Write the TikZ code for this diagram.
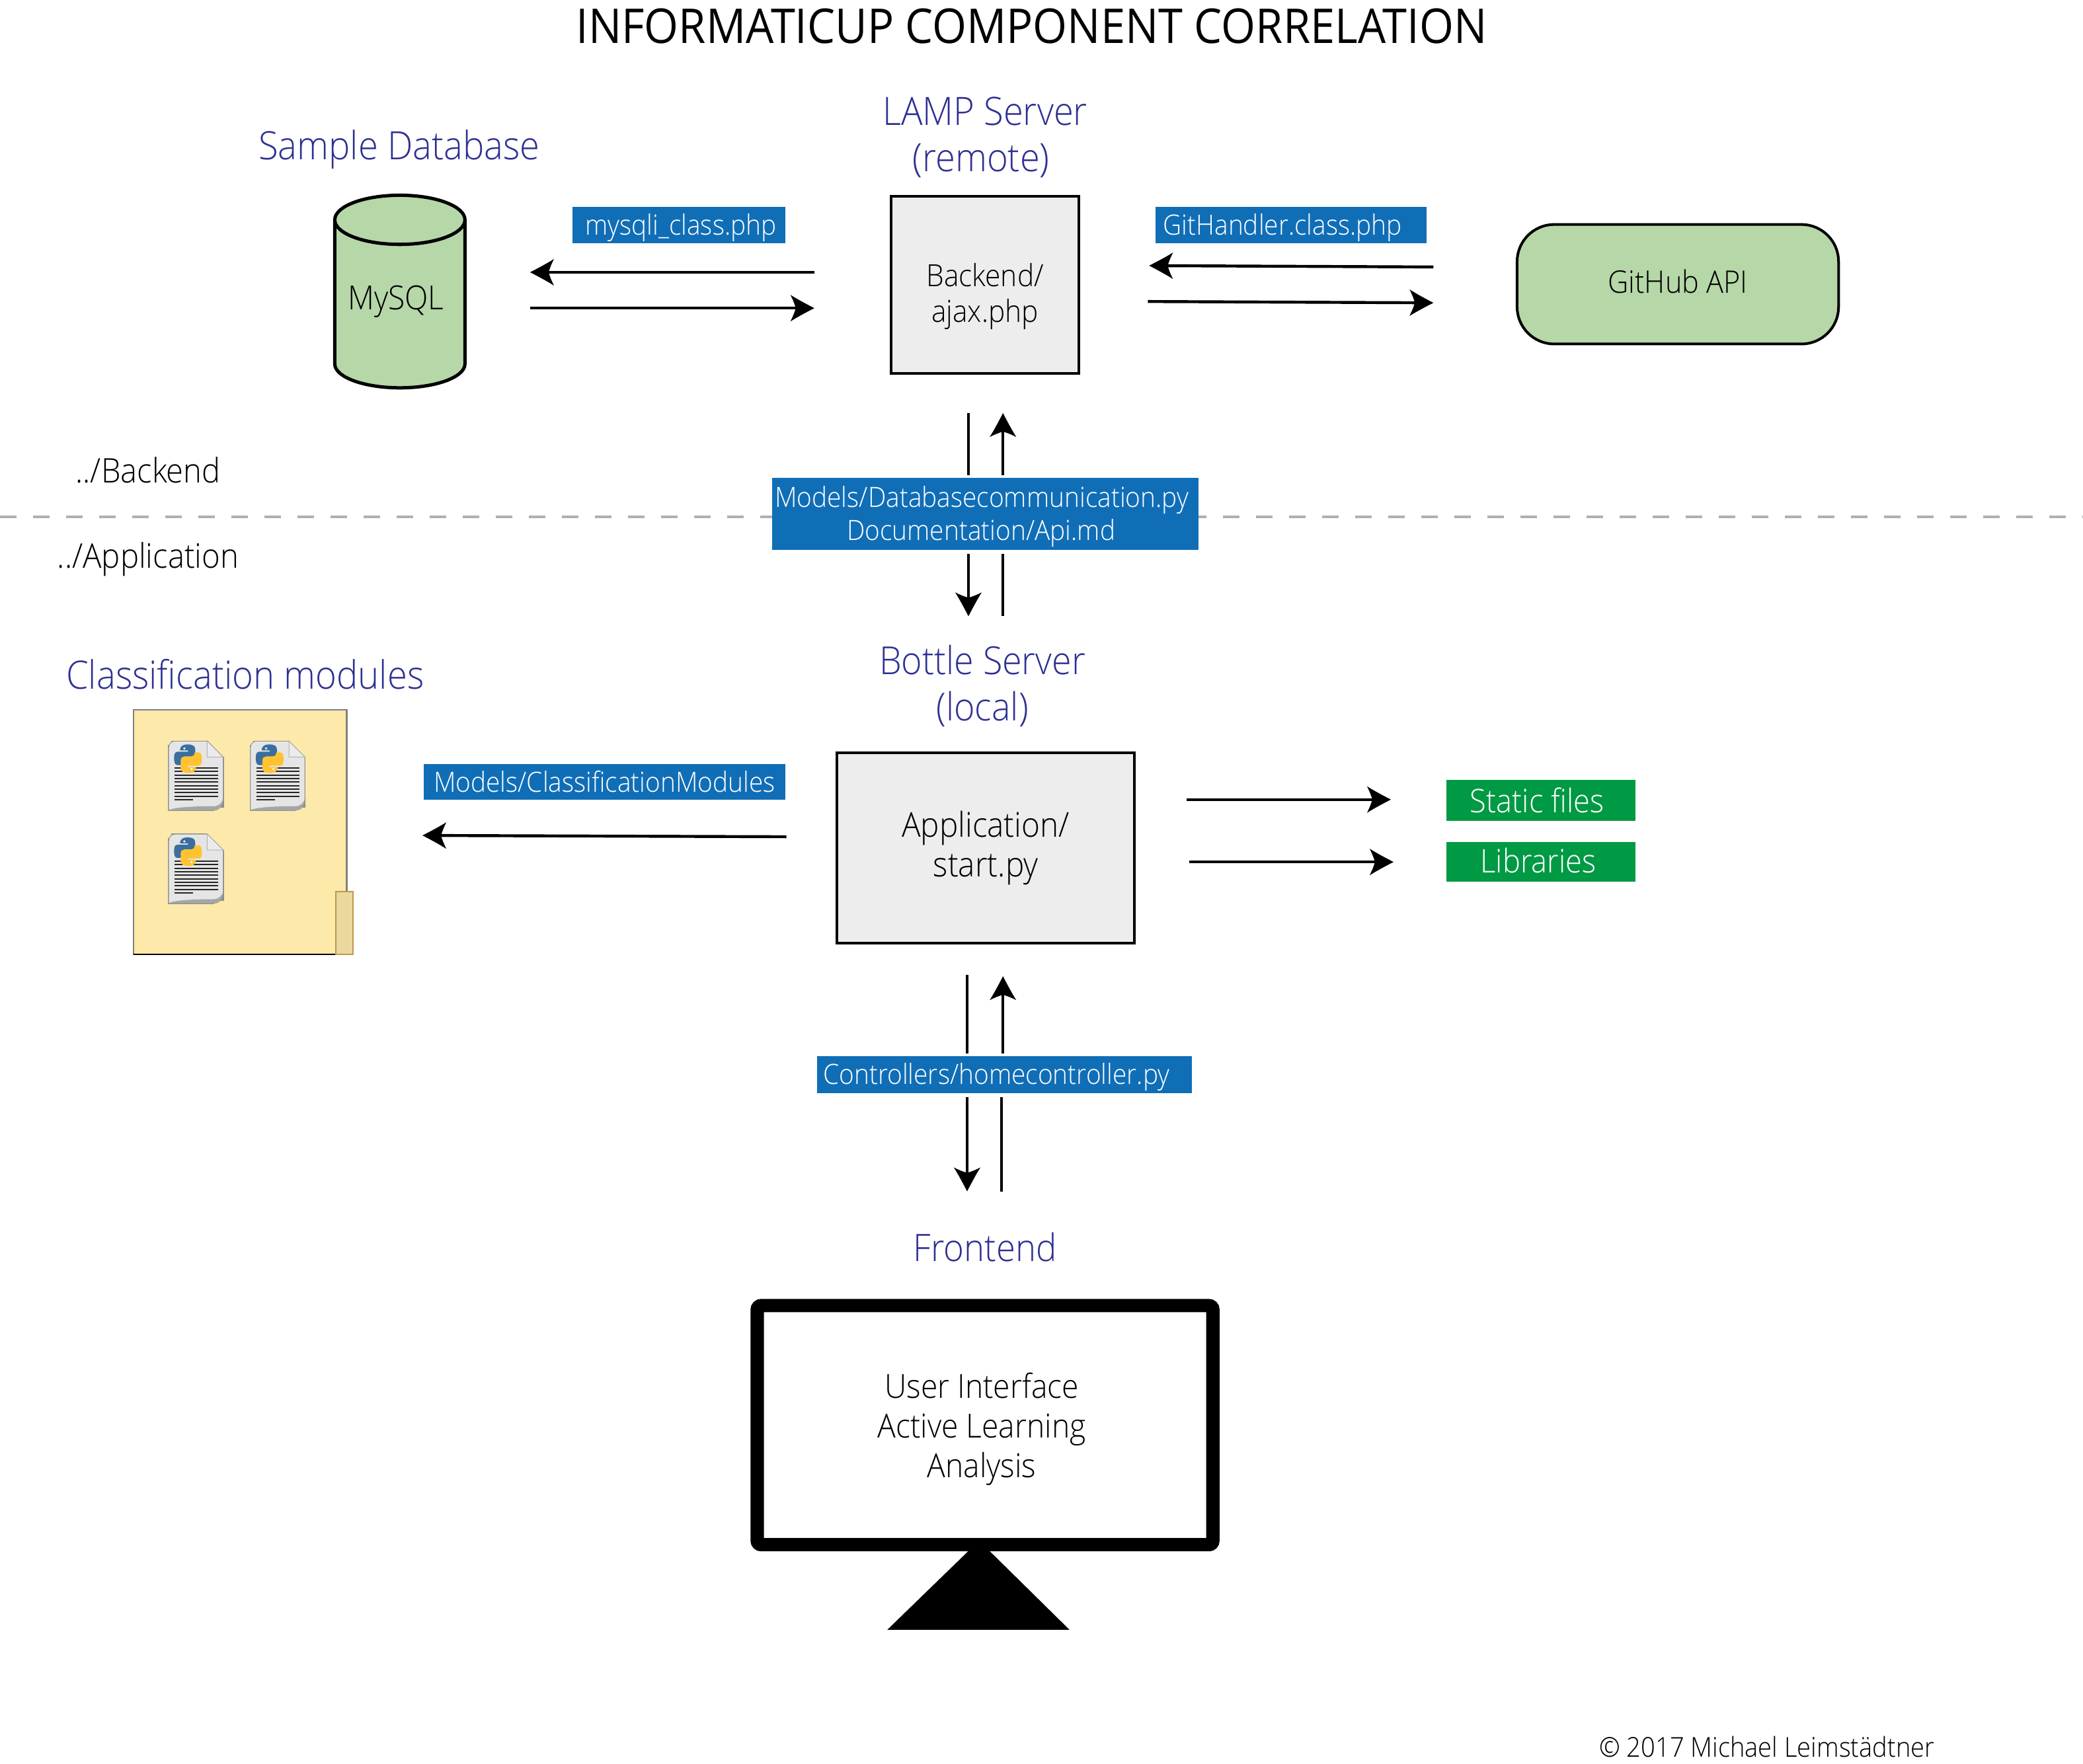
\documentclass[tikz,border=0pt]{standalone}
\usepackage{fontspec}
\setmainfont{Open Sans Light}[FakeStretch=0.92]
\newfontfamily\titlefont{Open Sans}[FakeStretch=0.92]
\usetikzlibrary{arrows.meta,shapes.geometric}
\definecolor{hd}{HTML}{2E3192}
\definecolor{bluebox}{HTML}{106EB7}
\definecolor{greenbox}{HTML}{009A44}
\definecolor{sage}{HTML}{B6D7A8}
\definecolor{panel}{HTML}{EDEDED}
\definecolor{folder}{HTML}{FDE9A9}
\definecolor{folderb}{HTML}{EBD89C}
\definecolor{folderl}{HTML}{BC9A4C}
\definecolor{pyb}{HTML}{3A6E9E}
\definecolor{pyy}{HTML}{FFC331}
\definecolor{sepgray}{HTML}{B0B0B0}
\newcommand\tagstrut{\rule{0pt}{20pt}}
\pgfarrowsdeclare{bowtip}{bowtip}
{\pgfarrowsleftextend{-8pt}\pgfarrowsrightextend{10pt}}
{
  \pgfsetlinewidth{0pt}
  \pgfpathmoveto{\pgfpoint{10pt}{0pt}}
  \pgfpathcurveto{\pgfpoint{4.5pt}{2.8pt}}{\pgfpoint{-3pt}{6.8pt}}{\pgfpoint{-8pt}{10pt}}
  \pgfpathcurveto{\pgfpoint{-6pt}{6pt}}{\pgfpoint{-4.8pt}{3pt}}{\pgfpoint{-4pt}{0pt}}
  \pgfpathcurveto{\pgfpoint{-4.8pt}{-3pt}}{\pgfpoint{-6pt}{-6pt}}{\pgfpoint{-8pt}{-10pt}}
  \pgfpathcurveto{\pgfpoint{-3pt}{-6.8pt}}{\pgfpoint{4.5pt}{-2.8pt}}{\pgfpoint{10pt}{0pt}}
  \pgfpathclose
  \pgfusepathqfill
}
\tikzset{
  x=1pt,y=-1pt,
  heading/.style={text=hd,align=center,font=\fontsize{29.4}{35}\selectfont,inner sep=0pt},
  plain/.style={text=black,align=center,inner sep=0pt},
  tagbox/.style={fill=bluebox,text=white,align=center,inner sep=0pt,font=\fontsize{21}{25}\selectfont},
  greentag/.style={fill=greenbox,text=white,align=center,inner sep=0pt,font=\fontsize{24.5}{30}\selectfont},
  flow/.style={line width=2.2pt,-bowtip},
  bare/.style={line width=2.2pt},
  pypage/.pic={
    \fill[black!45] (-0.5,-0.3) rectangle (41.5,52.6);
    \fill[folder] (-1,-1) rectangle (2,3);
    \fill[folder] (29,-1) rectangle (42,12);
    \fill[folder] (34,50) rectangle (42,53);
    \fill[black!45] (29,-.5) -- (41.5,12) -- (29,12) -- cycle;
    \path[fill=black!10,draw=black!40,line width=.5pt] (5,0) -- (29,0) -- (41,12) -- (41,42) .. controls (41,49) and (38,52) .. (34,52) -- (0,52) -- (0,5) .. controls (0,2) and (2,0) .. (5,0) -- cycle;
    \path[fill=white!92!black,draw=black!30,line width=.5pt] (29,0) -- (41,12) -- (29,12) -- cycle;
    \fill[black!35] (0,52) .. controls (5,49) and (30,49) .. (34,49) .. controls (38,49) and (41,46) .. (41,42) .. controls (41,49) and (38,52) .. (34,52) -- cycle;
    \foreach \yy in {20.3,22.8,25.8,28.3,30.8,33.6,36.1,38.8,41.7}
      \fill[black!85] (4.5,\yy-.5) rectangle (37,\yy+.5);
    \fill[black!85] (4.5,43.7) rectangle (18.3,44.7);
    \path[fill=pyb] (8.5,7) .. controls (8.5,3.5) and (11,2.5) .. (14,2.5) .. controls (18,2.5) and (20,3.5) .. (20,6.5) -- (20,12) .. controls (20,14) and (18.5,15) .. (17,15) -- (12,15) .. controls (10.5,15) and (9.5,16) .. (9.5,18) -- (6.5,18) .. controls (4.5,18) and (4,15.5) .. (4,12.5) .. controls (4,9.5) and (5,8) .. (6.5,8) -- (14.5,8) -- (14.5,7) -- cycle;
    \path[fill=pyy] (29-8.5,26.5-7) .. controls (29-8.5,26.5-3.5) and (29-11,26.5-2.5) .. (29-14,26.5-2.5) .. controls (29-18,26.5-2.5) and (29-20,26.5-3.5) .. (29-20,26.5-6.5) -- (29-20,26.5-12) .. controls (29-20,26.5-14) and (29-18.5,26.5-15) .. (29-17,26.5-15) -- (29-12,26.5-15) .. controls (29-10.5,26.5-15) and (29-9.5,26.5-16) .. (29-9.5,26.5-18) -- (29-6.5,26.5-18) .. controls (29-4.5,26.5-18) and (29-4,26.5-15.5) .. (29-4,26.5-12.5) .. controls (29-4,26.5-9.5) and (29-5,26.5-8) .. (29-6.5,26.5-8) -- (29-14.5,26.5-8) -- (29-14.5,26.5-7) -- cycle;
    \fill[white] (11.8,5.5) circle (.9);
    \fill[white] (17.2,21) circle (.9);
  }
}
\begin{document}
\begin{tikzpicture}
\useasboundingbox (0,0) rectangle (1568,1328);
\fill[white] (0,0) rectangle (1568,1328);

% separator
\coordinate (sepL) at (0,389);
\coordinate (sepR) at (1568,389);
\draw[line width=2pt,color=sepgray,dash pattern=on 12.44pt off 12.44pt] (sepL) -- (sepR);

% title
\node[inner sep=0pt,text=black] (title) at (776.5,19.5) {\titlefont\fontsize{36.1}{40}\selectfont INFORMATICUP COMPONENT CORRELATION};

% headings
\node[heading] (sampleh) at (300.5,112.5) {Sample Database};
\node[heading] (lamph) at (741.5,103.5) {LAMP Server\\(remote)\hspace*{6pt}};
\node[heading] (classh) at (184.5,507.5) {Classification modules};
\node[heading,font=\fontsize{29.1}{35}\selectfont] (bottleh) at (739.5,516.5) {Bottle Server\\(local)};
\node[heading,font=\fontsize{28.5}{35}\selectfont] (fronth) at (741.5,939) {Frontend};

% MySQL cylinder
\path[fill=sage,draw=black,line width=2.5pt] (252,165.5) -- (252,274) arc[start angle=180,end angle=360,x radius=49,y radius=-18] -- (350,165.5) arc[start angle=0,end angle=180,x radius=49,y radius=-18.5] -- cycle;
\draw[line width=2.5pt] (252,165.5) arc[start angle=180,end angle=360,x radius=49,y radius=-18.5];
\node[plain,font=\fontsize{25}{30}\selectfont] (mysql) at (298,227) {MySQL};

% server boxes
\node[draw=black,line width=2pt,fill=panel,minimum width=141pt,minimum height=133pt,plain,font=\fontsize{23}{27}\selectfont] (backend) at (741.5,214.5) {\rule{0pt}{35pt}Backend/\\ajax.php};
\node[draw=black,line width=2pt,fill=sage,rounded corners=28pt,minimum width=242pt,minimum height=90pt,plain,font=\fontsize{23.4}{27}\selectfont] (github) at (1263,214) {\rule[-4pt]{0pt}{4pt}GitHub API};
\node[draw=black,line width=2pt,fill=panel,minimum width=224pt,minimum height=143pt,plain,font=\fontsize{25.8}{30}\selectfont] (appbox) at (742,638.5) {Application/\\start.py};

% blue tags
\node[tagbox,minimum width=160pt,minimum height=27pt] (mysqli) at (511,169.5) {\tagstrut\hspace*{3pt}mysqli\_class.php};
\node[tagbox,minimum width=204pt,minimum height=27pt] (gith) at (972,169.5) {\tagstrut GitHandler.class.php\hspace*{13pt}};
\node[tagbox,minimum width=321pt,minimum height=54pt] (dbcom) at (741.5,387) {\tagstrut Models/Databasecommunication.py\hspace*{5pt}\\Documentation/Api.md\hspace*{6pt}};
\node[tagbox,minimum width=272pt,minimum height=27pt] (clsmod) at (455,588.5) {Models/ClassificationModules};
\node[tagbox,minimum width=282pt,minimum height=28pt] (homec) at (756,809) {\tagstrut Controllers/homecontroller.py\hspace*{12pt}};

% green tags
\node[greentag,minimum width=142pt,minimum height=31pt] (static) at (1160,602.5) {Static files\hspace*{6pt}};
\node[greentag,minimum width=142pt,minimum height=30pt] (libs) at (1160,649) {\rule[-2pt]{0pt}{2pt}Libraries\hspace*{4pt}};

% path labels
\node[plain,font=\fontsize{25.5}{29}\selectfont] (bk) at (111.5,354) {../Backend};
\node[plain,font=\fontsize{25.6}{29}\selectfont] (ap) at (111.5,421) {../Application};

% folder
\path[fill=folder,draw=black!50,line width=1pt] (100.5,534.5) rectangle (261,718.5);
\draw[line width=1pt] (100.5,718.5) -- (253,718.5);
\path[fill=folderb,draw=folderl,line width=1pt] (253,671.5) rectangle (265.5,718.5);
\pic at (127,558) {pypage};
\pic at (188.5,558) {pypage};
\pic at (127,628) {pypage};

% monitor
\path[draw=black,fill=white,line width=10pt,rounded corners=3pt] (570,983) rectangle (913,1163);
\coordinate (stL) at (668,1227);
\coordinate (stR) at (805,1227);
\coordinate (stTop) at (737,1160);
\fill[black] (stL) -- (stTop) -- (stR) -- cycle;
\node[plain,font=\fontsize{25}{30}\selectfont] (ui) at (739,1076) {User Interface\\Active Learning\\Analysis};

% copyright
\node[plain,font=\fontsize{20.6}{24}\selectfont] (copy) at (1330,1315) {© 2017 Michael Leimstädtner};

% connector ends
\coordinate (a1s) at (613,205); \coordinate (a1e) at (399,205);
\coordinate (a2s) at (399,232); \coordinate (a2e) at (613,232);
\coordinate (a3s) at (1079,201); \coordinate (a3e) at (865,200);
\coordinate (a4s) at (864,227); \coordinate (a4e) at (1079,228);
\coordinate (v1s) at (729,311); \coordinate (v1e) at (729,358);
\coordinate (v2s) at (755,358); \coordinate (v2e) at (755,311);
\coordinate (v3s) at (729,417); \coordinate (v3e) at (729,464);
\coordinate (v4s) at (755,417); \coordinate (v4e) at (755,464);
\coordinate (a5s) at (592,630); \coordinate (a5e) at (318,629);
\coordinate (a6s) at (893,602); \coordinate (a6e) at (1047,602);
\coordinate (a7s) at (895,649); \coordinate (a7e) at (1049,649);
\coordinate (v5s) at (728,734); \coordinate (v5e) at (728,793);
\coordinate (v6s) at (755,793); \coordinate (v6e) at (755,735);
\coordinate (v7s) at (728,826); \coordinate (v7e) at (728,897);
\coordinate (v8s) at (754,826); \coordinate (v8e) at (754,897);

\foreach \p/\q in {a1s/a1e,a2s/a2e,a3s/a3e,a4s/a4e,v2s/v2e,v3s/v3e,a5s/a5e,a6s/a6e,a7s/a7e,v6s/v6e,v7s/v7e}
  \draw[flow] (\p) -- (\q);
\foreach \p/\q in {v1s/v1e,v4s/v4e,v5s/v5e,v8s/v8e}
  \draw[bare] (\p) -- (\q);
\end{tikzpicture}
\end{document}
